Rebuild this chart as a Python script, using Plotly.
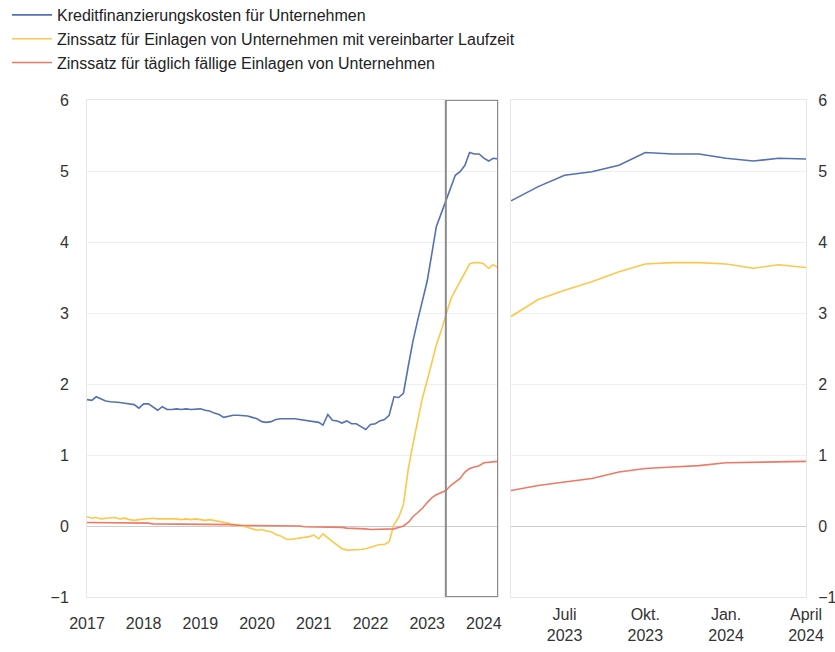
import pandas as pd
import plotly.graph_objects as go

# Monthly observations, January 2017 to April 2024
months = pd.date_range("2017-01-01", "2024-04-01", freq="MS")

kredit = [
    1.78, 1.77, 1.82, 1.79, 1.76, 1.75, 1.74, 1.74, 1.73, 1.72, 1.71, 1.66,
    1.72, 1.72, 1.68, 1.63, 1.68, 1.64, 1.64, 1.65, 1.64, 1.65, 1.64, 1.64,
    1.65, 1.63, 1.62, 1.59, 1.57, 1.53, 1.55, 1.56, 1.56, 1.56, 1.55, 1.53,
    1.51, 1.47, 1.46, 1.47, 1.50, 1.51, 1.51, 1.52, 1.51, 1.50, 1.49, 1.48,
    1.47, 1.46, 1.42, 1.57, 1.49, 1.48, 1.45, 1.48, 1.44, 1.44, 1.40, 1.36,
    1.43, 1.44, 1.48, 1.50, 1.56, 1.82, 1.81, 1.87, 2.25, 2.60, 2.90, 3.15,
    3.45, 3.85, 4.22, 4.40, 4.58, 4.78, 4.94, 4.99, 5.08, 5.26, 5.24, 5.24,
    5.18, 5.14, 5.18, 5.17,
]

laufzeit = [
    0.13, 0.11, 0.12, 0.10, 0.11, 0.12, 0.12, 0.10, 0.11, 0.09, 0.08, 0.09,
    0.10, 0.10, 0.11, 0.10, 0.10, 0.11, 0.10, 0.10, 0.09, 0.10, 0.09, 0.10,
    0.09, 0.08, 0.09, 0.08, 0.07, 0.05, 0.04, 0.00, 0.02, 0.00, -0.02, -0.05,
    -0.06, -0.05, -0.07, -0.08, -0.12, -0.14, -0.18, -0.19, -0.18, -0.17, -0.17, -0.15,
    -0.13, -0.18, -0.11, -0.17, -0.22, -0.27, -0.32, -0.34, -0.34, -0.34, -0.33, -0.32,
    -0.30, -0.28, -0.26, -0.26, -0.22, 0.02, 0.12, 0.30, 0.80, 1.15, 1.50, 1.80,
    2.05, 2.30, 2.55, 2.75, 2.95, 3.19, 3.32, 3.44, 3.58, 3.69, 3.71, 3.71,
    3.69, 3.63, 3.68, 3.64,
]

taeglich = [
    0.05, 0.05, 0.05, 0.05, 0.05, 0.05, 0.04, 0.04, 0.04, 0.04, 0.04, 0.04,
    0.04, 0.04, 0.03, 0.03, 0.03, 0.03, 0.03, 0.03, 0.03, 0.03, 0.03, 0.03,
    0.03, 0.03, 0.02, 0.02, 0.02, 0.02, 0.02, 0.02, 0.01, 0.01, 0.01, 0.01,
    0.01, 0.01, 0.01, 0.00, 0.00, 0.00, 0.00, 0.00, 0.00, 0.00, -0.01, -0.01,
    -0.01, -0.01, -0.01, -0.01, -0.02, -0.02, -0.02, -0.03, -0.03, -0.03, -0.04, -0.04,
    -0.05, -0.05, -0.05, -0.05, -0.05, -0.04, -0.02, 0.00, 0.05, 0.13, 0.19, 0.25,
    0.33, 0.40, 0.44, 0.47, 0.50, 0.57, 0.62, 0.67, 0.76, 0.81, 0.83, 0.85,
    0.89, 0.90, 0.90, 0.91,
]

series_names = [
    "Kreditfinanzierungskosten für Unternehmen",
    "Zinssatz für Einlagen von Unternehmen mit vereinbarter Laufzeit",
    "Zinssatz für täglich fällige Einlagen von Unternehmen",
]
series_values = [kredit, laufzeit, taeglich]
colors = ["#5570B3", "#FDC74A", "#EE7A64"]

left_ticks = ["2017-01-01", "2018-01-01", "2019-01-01", "2020-01-01",
              "2021-01-01", "2022-01-01", "2023-01-01", "2024-01-01"]
left_labels = ["2017", "2018", "2019", "2020", "2021", "2022", "2023", "2024"]
right_ticks = ["2023-07-01", "2023-10-01", "2024-01-01", "2024-04-01"]
right_labels = ["Juli<br>2023", "Okt.<br>2023", "Jan.<br>2024", "April<br>2024"]
zoom_start = "2023-05-01"
y_ticks = [-1, 0, 1, 2, 3, 4, 5, 6]

W, H = 835, 652
zoom_mask = months >= pd.Timestamp(zoom_start)

fig = go.Figure()
for name, vals, col in zip(series_names, series_values, colors):
    fig.add_trace(go.Scatter(x=months, y=vals, name=name, mode="lines",
                             line=dict(color=col, width=1.6),
                             xaxis="x", yaxis="y"))
for name, vals, col in zip(series_names, series_values, colors):
    zv = [v for v, m in zip(vals, zoom_mask) if m]
    fig.add_trace(go.Scatter(x=months[zoom_mask], y=zv, name=name, mode="lines",
                             line=dict(color=col, width=1.6), showlegend=False,
                             xaxis="x2", yaxis="y2"))

fam = "Arial, Liberation Sans, sans-serif"
font = dict(family=fam, size=16, color="#333333")
grid = "#efefef"
frame = "#e6e6e6"

fig.update_layout(
    width=W, height=H,
    margin=dict(l=0, r=0, t=0, b=0, autoexpand=False),
    paper_bgcolor="white", plot_bgcolor="white",
    font=font,
    showlegend=True,
    legend=dict(x=7 / W, y=1 + 2 / H, xanchor="left", yanchor="top",
                font=dict(family=fam, size=16, color="#222222"),
                bgcolor="rgba(0,0,0,0)", tracegroupgap=0, itemwidth=40),
    xaxis=dict(domain=[87 / W, 498 / W], type="date", automargin=False,
               range=["2017-01-01", "2024-04-01"],
               tickvals=left_ticks, ticktext=left_labels,
               showgrid=False, showline=True, mirror=True, linecolor=frame,
               ticks="", ticklabelstandoff=12, zeroline=False),
    yaxis=dict(domain=[1 - 597 / H, 1 - 100 / H], range=[-1, 6], automargin=False,
               tickvals=y_ticks, showgrid=True, gridcolor=grid,
               zeroline=True, zerolinecolor="#cccccc", zerolinewidth=1.2,
               showline=True, mirror=True, linecolor=frame,
               ticks="", ticklabelstandoff=14),
    xaxis2=dict(domain=[511 / W, 806 / W], type="date", anchor="y2", automargin=False,
                range=[zoom_start, "2024-04-01"],
                tickvals=right_ticks, ticktext=right_labels,
                showgrid=False, showline=True, mirror=True, linecolor=frame,
                ticks="", ticklabelstandoff=3, zeroline=False),
    yaxis2=dict(domain=[1 - 597 / H, 1 - 100 / H], range=[-1, 6], anchor="x2",
                automargin=False,
                side="right", tickvals=y_ticks, showgrid=True, gridcolor=grid,
                zeroline=True, zerolinecolor="#cccccc", zerolinewidth=1.2,
                showline=True, mirror=True, linecolor=frame,
                ticks="", ticklabelstandoff=8),
)

fig.add_shape(type="rect", xref="x", yref="y",
              x0=zoom_start, x1="2024-04-01", y0=-1, y1=6,
              line=dict(color="#8c8c8c", width=2), fillcolor="rgba(0,0,0,0)")

fig.write_html(
    "out.html",
    config={"displayModeBar": False},
    post_script="document.body.style.margin='0';document.body.style.padding='0';"
                "document.body.style.overflow='hidden';",
)
